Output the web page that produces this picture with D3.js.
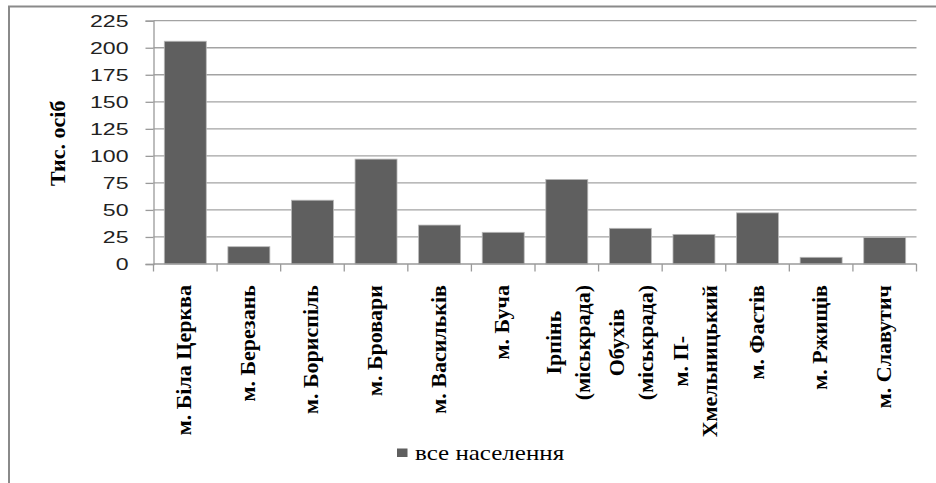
<!DOCTYPE html>
<html><head><meta charset="utf-8">
<script src="https://cdn.jsdelivr.net/npm/d3@7"></script>
<style>html,body{margin:0;padding:0;background:#fff;}svg{display:block;}</style>
</head><body>
<svg id="chart" width="936" height="483"></svg>
<script>
const categories = [
  ["м. Біла Церква"],
  ["м. Березань"],
  ["м. Бориспіль"],
  ["м. Бровари"],
  ["м. Васильків"],
  ["м.  Буча"],
  ["Ірпінь", "(міськрада)"],
  ["Обухів", "(міськрада)"],
  ["м. П-", "Хмельницький"],
  ["м. Фастів"],
  ["м. Ржищів"],
  ["м. Славутич"]
];
const values = [206, 16, 59, 97, 36, 29.3, 78.2, 33, 27.4, 47.3, 6.2, 24.6];
const yTicks = [0, 25, 50, 75, 100, 125, 150, 175, 200, 225];
const seriesName = "все населення";
const yTitle = "Тис. осіб";

const svg = d3.select("#chart");
const pLeft = 153.5, pRight = 916.5, pTop = 20.7, pBottom = 264;
const ids = categories.map((c, i) => i);
const x = d3.scaleBand().domain(ids).range([pLeft, pRight]).paddingInner(0.34).paddingOuter(0.17);
const y = d3.scaleLinear().domain([0, 225]).range([pBottom, pTop]);
const barColor = "#5f5f5f";
const SERIF = '"Liberation Serif"';
const SANS = '"Liberation Sans"';

// outer frame
svg.append("rect").attr("x", 9).attr("y", 6.5).attr("width", 1000).attr("height", 1000)
  .attr("fill", "none").attr("stroke", "#8a8a8a").attr("stroke-width", 2);

// gridlines
svg.append("g").selectAll("line").data(yTicks.filter(t => t > 0)).join("line")
  .attr("x1", pLeft).attr("x2", pRight)
  .attr("y1", d => y(d)).attr("y2", d => y(d))
  .attr("stroke", "#a3a3a3").attr("stroke-width", 1.3);

// y axis
const yAxis = d3.axisLeft(y).tickValues(yTicks).tickSize(8).tickPadding(0);
const gy = svg.append("g").attr("transform", `translate(${pLeft},0)`).call(yAxis);
gy.select(".domain").attr("stroke", "#9a9a9a").attr("stroke-width", 1.3);
gy.selectAll(".tick line").attr("stroke", "#9a9a9a").attr("stroke-width", 1.3);
gy.selectAll(".tick text").remove();
gy.selectAll(".tick").append("text")
  .attr("transform", "translate(-25,0) scale(1.4,1)")
  .attr("text-anchor", "end").attr("dy", "0.36em")
  .style("font-family", SANS).style("font-size", "16.5px").attr("fill", "#222")
  .text(d => d);

// bars
svg.append("g").selectAll("rect").data(values).join("rect")
  .attr("x", (d, i) => x(i)).attr("width", x.bandwidth())
  .attr("y", d => y(d)).attr("height", d => pBottom - y(d))
  .attr("fill", barColor).attr("stroke", "#b8b8b8").attr("stroke-width", 0.8);

// x axis
const xb = d3.scaleLinear().domain([0, categories.length]).range([pLeft, pRight]);
const gx = svg.append("g");
gx.append("line").attr("x1", pLeft).attr("x2", pRight).attr("y1", pBottom).attr("y2", pBottom)
  .attr("stroke", "#9a9a9a").attr("stroke-width", 1.3);
gx.selectAll("line.tk").data(d3.range(categories.length + 1)).join("line").attr("class", "tk")
  .attr("x1", d => xb(d)).attr("x2", d => xb(d)).attr("y1", pBottom).attr("y2", pBottom + 7.5)
  .attr("stroke", "#9a9a9a").attr("stroke-width", 1.3);

// category labels (rotated)
const labelTop = 285, lineGap = 29, fs = 22;
categories.forEach((lines, i) => {
  const cx = x(i) + x.bandwidth() / 2;
  const g = gx.append("g");
  const texts = lines.map((ln, j) => g.append("text")
    .style("font-family", SERIF).style("font-weight", "bold").style("font-size", fs + "px")
    .attr("fill", "#000").attr("text-anchor", "middle").text(ln));
  const maxLen = d3.max(texts, t => t.node().getComputedTextLength());
  const cy = labelTop + maxLen / 2;
  const n = lines.length;
  texts.forEach((t, j) => {
    const bx = cx + (n > 1 ? 8.5 : 6) + (j - (n - 1) / 2) * lineGap;
    t.attr("transform", `translate(${bx},${cy}) rotate(-90)`);
  });
});

// y title
svg.append("text").attr("transform", "translate(65,143.3) rotate(-90)")
  .attr("text-anchor", "middle")
  .style("font-family", SERIF).style("font-weight", "bold").style("font-size", fs + "px")
  .attr("fill", "#000").text(yTitle);

// legend
svg.append("rect").attr("x", 397).attr("y", 448.5).attr("width", 10.5).attr("height", 8.5).attr("fill", barColor);
svg.append("text").attr("transform", "translate(415,459.5) scale(1.19,1)")
  .style("font-family", SERIF).style("font-size", "21px").attr("fill", "#000").text(seriesName);
</script>
</body></html>
